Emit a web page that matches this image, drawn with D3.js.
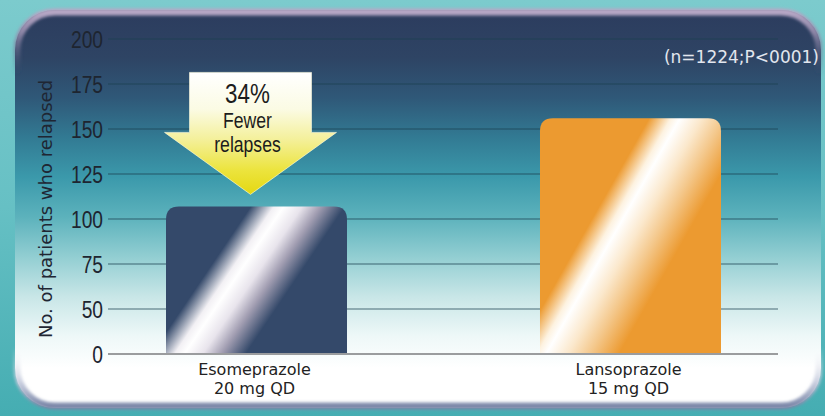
<!DOCTYPE html>
<html>
<head>
<meta charset="utf-8">
<script src="https://cdn.jsdelivr.net/npm/d3@7"></script>
<style>
  html, body { margin: 0; padding: 0; background: #6cc4c7; }
  svg { display: block; }
</style>
</head>
<body>
<svg id="chart" width="825" height="416"></svg>
<script>
// ---- data ----
const categories = ["Esomeprazole", "Lansoprazole"];
const doseLabels = ["20 mg QD", "15 mg QD"];
const relapses = [107, 156];
const tickValues = [0, 50, 75, 100, 125, 150, 175, 200];
const yTitle = "No. of patients who relapsed";
const statText = "(n=1224;P<0001)";
const calloutLines = ["34%", "Fewer", "relapses"];

// ---- setup ----
const W = 825, H = 416;
const svg = d3.select("#chart");
const defs = svg.append("defs");

const narrow = "'Liberation Sans', Arial, sans-serif";
const narrowScale = 0.8;
const verdana = "'DejaVu Sans', Verdana, sans-serif";

// background
const bgGrad = defs.append("linearGradient").attr("id", "bgGrad")
  .attr("x1", 0).attr("y1", 0).attr("x2", 0).attr("y2", 1);
[[0, "#7ccbcd"], [0.5, "#66c0c4"], [1, "#45adb2"]].forEach(s =>
  bgGrad.append("stop").attr("offset", s[0]).attr("stop-color", s[1]));
svg.append("rect").attr("width", W).attr("height", H).attr("fill", "url(#bgGrad)");

// panel
const panelGrad = defs.append("linearGradient").attr("id", "panelGrad")
  .attr("x1", 0).attr("y1", 0).attr("x2", 0).attr("y2", 1);
[[0, "#2c3c5e"], [0.12, "#2e4464"], [0.22, "#2f5878"], [0.32, "#327a93"],
 [0.42, "#3b99ab"], [0.52, "#5cb2bc"], [0.62, "#92ced2"], [0.72, "#c8e6e7"],
 [0.82, "#eef8f8"], [0.9, "#ffffff"], [1, "#ffffff"]].forEach(s =>
  panelGrad.append("stop").attr("offset", s[0]).attr("stop-color", s[1]));

const rimGrad = defs.append("linearGradient").attr("id", "rimGrad")
  .attr("x1", 0).attr("y1", 0).attr("x2", 0).attr("y2", 1);
[[0, "#b7a8c6", 1], [0.05, "#9a8fb0", 0.9], [0.16, "#3a4a6c", 0], [0.85, "#ffffff", 0],
 [0.94, "#c4cadc", 0.9], [1, "#7a86a8", 1]].forEach(s =>
  rimGrad.append("stop").attr("offset", s[0]).attr("stop-color", s[1]).attr("stop-opacity", s[2]));

const blur = defs.append("filter").attr("id", "soft").attr("x", "-5%").attr("y", "-5%")
  .attr("width", "110%").attr("height", "110%");
blur.append("feGaussianBlur").attr("stdDeviation", 1.8);

svg.append("rect").attr("x", 15).attr("y", 10).attr("width", 806).attr("height", 398)
  .attr("rx", 40).attr("ry", 40)
  .attr("fill", "url(#panelGrad)");
svg.append("rect").attr("x", 17).attr("y", 12).attr("width", 802).attr("height", 394)
  .attr("rx", 38).attr("ry", 38)
  .attr("fill", "none")
  .attr("stroke", "url(#rimGrad)").attr("stroke-width", 7)
  .attr("filter", "url(#soft)");

// ---- scales ----
const y = d3.scaleLinear().domain([0, 50, 200]).range([354, 309, 39]);
const x = d3.scaleBand().domain(categories).range([166, 721]).paddingInner(0.516).paddingOuter(0);
const gridX0 = 108, gridX1 = 778;

// grid lines
svg.append("g").selectAll("line").data(tickValues.filter(d => d > 0)).join("line")
  .attr("x1", gridX0).attr("x2", gridX1)
  .attr("y1", d => y(d)).attr("y2", d => y(d))
  .attr("stroke", "#1c3f52").attr("stroke-opacity", 0.5).attr("stroke-width", 1.6);

// y axis labels via d3 axis
const yAxis = d3.axisLeft(y).tickValues(tickValues).tickSize(0).tickPadding(0).tickFormat(d3.format("d"));
const yg = svg.append("g").attr("transform", `translate(103,0)`).call(yAxis);
yg.select(".domain").remove();
yg.selectAll("text")
  .attr("x", 0)
  .attr("font-family", narrow).attr("font-size", 24)
  .attr("fill", "#1e2530").attr("dy", "0.36em")
  .attr("transform", `scale(${narrowScale},1)`);

// y title
svg.append("text")
  .attr("transform", `translate(52,209) rotate(-90)`)
  .attr("text-anchor", "middle")
  .attr("font-family", verdana).attr("font-size", 18)
  .attr("fill", "#1f2633")
  .text(yTitle);

// stat text
svg.append("text").attr("x", 819).attr("y", 63).attr("text-anchor", "end")
  .attr("font-family", verdana).attr("font-size", 17)
  .attr("fill", "#e2e6ee").text(statText);

// ---- bars ----
const barStyles = [
  { base: "#34496a", hiL: "#f2f0f4", hiR: "#e8e4ec", mid: "#a29eb2", vy: 0.55, c: 0.5, l: 0.14, r: 0.26 },
  { base: "#ec9a30", hiL: "#fdf2e0", hiR: "#fbe8cc", mid: "#f4c88c", vy: 0.74, c: 0.5, l: 0.11, r: 0.26 }
];
barStyles.forEach((s, i) => {
  const g = defs.append("linearGradient").attr("id", "barGrad" + i)
    .attr("x1", 0).attr("y1", 0).attr("x2", 1).attr("y2", s.vy);
  [[0, s.base], [s.c - s.l, s.base], [s.c - s.l * 0.3, s.hiL], [s.c, "#ffffff"],
   [s.c + s.r * 0.3, s.hiR], [s.c + s.r * 0.6, s.mid], [s.c + s.r, s.base], [1, s.base]].forEach(st =>
    g.append("stop").attr("offset", Math.max(0, Math.min(1, st[0]))).attr("stop-color", st[1]));
});

function topRounded(x0, y0, w, h, r) {
  return `M${x0},${y0 + h}V${y0 + r}Q${x0},${y0} ${x0 + r},${y0}H${x0 + w - r}Q${x0 + w},${y0} ${x0 + w},${y0 + r}V${y0 + h}Z`;
}

svg.append("g").selectAll("path").data(categories).join("path")
  .attr("d", (d, i) => topRounded(x(d), y(relapses[i]), x.bandwidth(), y(0) - y(relapses[i]), 13))
  .attr("fill", (d, i) => `url(#barGrad${i})`);

// baseline
svg.append("line").attr("x1", gridX0).attr("x2", gridX1)
  .attr("y1", y(0)).attr("y2", y(0))
  .attr("stroke", "#9a9c9e").attr("stroke-width", 2);

// category labels
const lab = svg.append("g").selectAll("text").data(categories).join("text")
  .attr("text-anchor", "middle")
  .attr("font-family", verdana).attr("font-size", 16)
  .attr("fill", "#222");
lab.append("tspan").attr("x", d => x(d) + x.bandwidth() / 2 - 2).attr("y", 375).text(d => d);
lab.append("tspan").attr("x", d => x(d) + x.bandwidth() / 2 - 2).attr("y", 394).text((d, i) => doseLabels[i]);

// ---- callout arrow ----
const arrowGrad = defs.append("linearGradient").attr("id", "arrowGrad")
  .attr("x1", 0).attr("y1", 0).attr("x2", 0).attr("y2", 1);
[[0, "#ffffff"], [0.3, "#fbfbe4"], [0.55, "#f4f09a"], [0.8, "#ece43e"], [1, "#e4d812"]].forEach(s =>
  arrowGrad.append("stop").attr("offset", s[0]).attr("stop-color", s[1]));

const ax = x(categories[0]) + x.bandwidth() / 2 - 6;
const tipY = y(relapses[0]) - 12;
const shaftHalf = 61, headHalf = 86, headH = 62, totalH = 122;
const topY = tipY - totalH, wingY = tipY - headH;
svg.append("path")
  .attr("d", `M${ax - shaftHalf},${topY}H${ax + shaftHalf}V${wingY}H${ax + headHalf}L${ax},${tipY}L${ax - headHalf},${wingY}H${ax - shaftHalf}Z`)
  .attr("fill", "url(#arrowGrad)")
  .attr("stroke", "#fffbe0").attr("stroke-width", 1).attr("stroke-opacity", 0.6);

const cal = svg.append("g").attr("transform", `translate(${ax - 3},0) scale(${narrowScale},1)`)
  .append("text").attr("text-anchor", "middle")
  .attr("font-family", narrow).attr("fill", "#1c1c1c");
cal.append("tspan").attr("x", 0).attr("y", topY + 31).attr("font-size", 28).text(calloutLines[0]);
cal.append("tspan").attr("x", 0).attr("y", topY + 56).attr("font-size", 22).text(calloutLines[1]);
cal.append("tspan").attr("x", 0).attr("y", topY + 80).attr("font-size", 22).text(calloutLines[2]);
</script>
</body>
</html>
